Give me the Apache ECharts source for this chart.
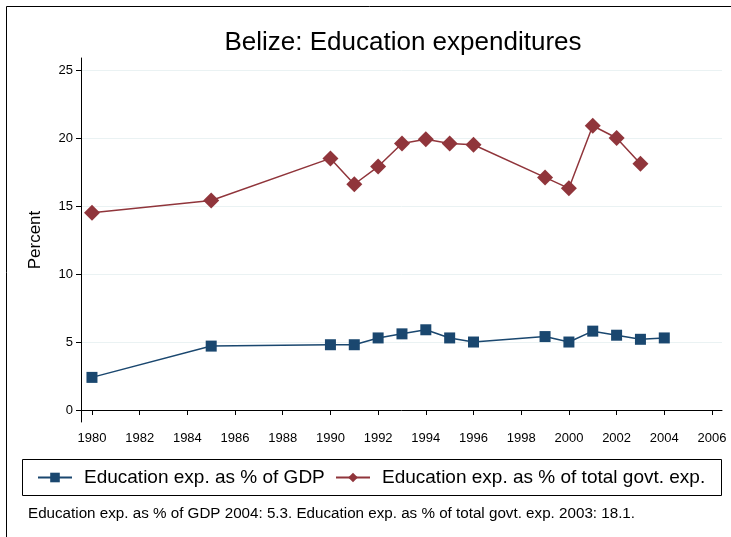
<!DOCTYPE html>
<html>
<head>
<meta charset="utf-8">
<script src="https://cdn.jsdelivr.net/npm/echarts@6/dist/echarts.min.js"></script>
<style>
  html, body { margin: 0; padding: 0; background: #fff; }
  #chart { width: 731px; height: 537px; }
</style>
</head>
<body>
<div id="chart"></div>
<script>
'use strict';
// values
var gdpYears = [1980, 1985, 1990, 1991, 1992, 1993, 1994, 1995, 1996, 1999, 2000, 2001, 2002, 2003, 2004];
var gdpShare = [2.4, 4.7, 4.8, 4.8, 5.3, 5.6, 5.9, 5.3, 5.0, 5.4, 5.0, 5.8, 5.5, 5.2, 5.3];
var govYears = [1980, 1985, 1990, 1991, 1992, 1993, 1994, 1995, 1996, 1999, 2000, 2001, 2002, 2003];
var govShare = [14.5, 15.4, 18.5, 16.6, 17.9, 19.6, 19.9, 19.6, 19.5, 17.1, 16.3, 20.9, 20.0, 18.1];
var xTicks = [1980, 1982, 1984, 1986, 1988, 1990, 1992, 1994, 1996, 1998, 2000, 2002, 2004, 2006];
var yTicks = [0, 5, 10, 15, 20, 25];
var seriesNames = ['Education exp. as % of GDP', 'Education exp. as % of total govt. exp.'];

var font = 'Liberation Sans, Arial, sans-serif';
var pairs = function (xs, ys) {
    return xs.map(function (x, i) { return [x, ys[i]]; });
};
// one legend per item so each can sit where the reference puts it
var legendAt = function (left, name) {
    return {
        left: left,
        top: 468,
        padding: 0,
        itemWidth: 34,
        itemHeight: 12,
        textStyle: {fontSize: 19, color: '#000', fontFamily: font, padding: [0, 0, 0, 7]},
        data: [name]
    };
};

var chart = echarts.init(document.getElementById('chart'));
chart.setOption({
    animation: false,
    textStyle: {fontFamily: font},
    title: {
        text: 'Belize: Education expenditures',
        left: 398,
        textAlign: 'center',
        top: 25,
        textStyle: {fontSize: 26, fontWeight: 'normal', color: '#000', fontFamily: font}
    },
    grid: {left: 81, right: 9, top: 58, bottom: 115, containLabel: false},
    xAxis: {
        type: 'value',
        min: 1979.54,
        max: 2006.42,
        axisLine: {show: true, lineStyle: {color: '#000', width: 1}},
        axisTick: {show: true, customValues: xTicks, length: 5, lineStyle: {color: '#000'}},
        axisLabel: {
            customValues: xTicks, color: '#000', fontSize: 13, margin: 10, fontFamily: font,
            formatter: function (v) { return String(v); }
        },
        splitLine: {show: false}
    },
    yAxis: {
        type: 'value',
        min: -0.88,
        max: 25.88,
        name: 'Percent',
        nameLocation: 'middle',
        nameGap: 37,
        nameTextStyle: {fontSize: 17, color: '#000', fontFamily: font},
        axisLine: {show: true, lineStyle: {color: '#000', width: 1}},
        axisTick: {show: true, customValues: yTicks, length: 5, lineStyle: {color: '#000'}},
        axisLabel: {customValues: yTicks, color: '#000', fontSize: 13, margin: 8, fontFamily: font},
        splitLine: {show: true, lineStyle: {color: '#eaf2f3', width: 1}}
    },
    legend: [legendAt(37, seriesNames[0]), legendAt(335, seriesNames[1])],
    graphic: [
        {type: 'rect', shape: {x: 6.5, y: 6.5, width: 800, height: 600},
         style: {fill: null, stroke: '#000', lineWidth: 1}, silent: true},
        {type: 'rect', shape: {x: 22.5, y: 459.5, width: 699, height: 36},
         style: {fill: null, stroke: '#000', lineWidth: 1}, silent: true},
        {type: 'text', left: 28, top: 506,
         style: {text: 'Education exp. as % of GDP 2004: 5.3. Education exp. as % of total govt. exp. 2003: 18.1.',
                 fontSize: 15.2, fill: '#000', fontFamily: font}}
    ],
    series: [
        {
            name: seriesNames[0],
            type: 'line',
            data: pairs(gdpYears, gdpShare),
            symbol: 'rect',
            symbolSize: 11,
            itemStyle: {color: '#1a476f'},
            lineStyle: {color: '#1a476f', width: 1.5}
        },
        {
            name: seriesNames[1],
            type: 'line',
            data: pairs(govYears, govShare),
            symbol: 'diamond',
            symbolSize: 16,
            itemStyle: {color: '#90353b'},
            lineStyle: {color: '#90353b', width: 1.5}
        }
    ]
});
</script>
</body>
</html>
